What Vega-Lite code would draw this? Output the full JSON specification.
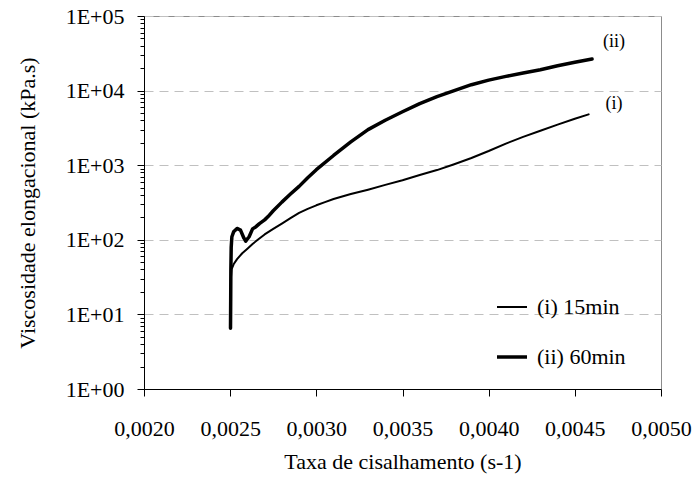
{
  "$schema": "https://vega.github.io/schema/vega-lite/v6.json",
  "width": 517,
  "height": 373,
  "autosize": {"type": "none"},
  "padding": {"left": 144, "top": 16, "right": 35, "bottom": 101},
  "background": "white",
  "config": {
    "font": "Times New Roman, Times, Liberation Serif, serif",
    "view": {"stroke": "#8c8c8c", "strokeWidth": 1},
    "axis": {
      "labelFont": "Times New Roman, Times, Liberation Serif, serif",
      "titleFont": "Times New Roman, Times, Liberation Serif, serif",
      "labelFontSize": 22,
      "titleFontSize": 22,
      "titleFontWeight": "normal",
      "labelColor": "black",
      "titleColor": "black",
      "domainColor": "black",
      "tickColor": "black",
      "domainWidth": 1,
      "tickWidth": 1
    }
  },
  "datasets": {
    "curves": [
      {"x": 0.002502, "y": 12, "s": "(i) 15min"},
      {"x": 0.002504, "y": 30, "s": "(i) 15min"},
      {"x": 0.002508, "y": 40, "s": "(i) 15min"},
      {"x": 0.00252, "y": 47, "s": "(i) 15min"},
      {"x": 0.00254, "y": 55, "s": "(i) 15min"},
      {"x": 0.00257, "y": 66, "s": "(i) 15min"},
      {"x": 0.0026, "y": 76, "s": "(i) 15min"},
      {"x": 0.00263, "y": 88, "s": "(i) 15min"},
      {"x": 0.00266, "y": 100, "s": "(i) 15min"},
      {"x": 0.0027, "y": 118, "s": "(i) 15min"},
      {"x": 0.00275, "y": 140, "s": "(i) 15min"},
      {"x": 0.0028, "y": 165, "s": "(i) 15min"},
      {"x": 0.00285, "y": 195, "s": "(i) 15min"},
      {"x": 0.0029, "y": 230, "s": "(i) 15min"},
      {"x": 0.00295, "y": 260, "s": "(i) 15min"},
      {"x": 0.003, "y": 290, "s": "(i) 15min"},
      {"x": 0.00305, "y": 320, "s": "(i) 15min"},
      {"x": 0.0031, "y": 352, "s": "(i) 15min"},
      {"x": 0.0032, "y": 410, "s": "(i) 15min"},
      {"x": 0.0033, "y": 470, "s": "(i) 15min"},
      {"x": 0.0034, "y": 545, "s": "(i) 15min"},
      {"x": 0.0035, "y": 630, "s": "(i) 15min"},
      {"x": 0.0036, "y": 740, "s": "(i) 15min"},
      {"x": 0.0037, "y": 860, "s": "(i) 15min"},
      {"x": 0.0038, "y": 1030, "s": "(i) 15min"},
      {"x": 0.0039, "y": 1250, "s": "(i) 15min"},
      {"x": 0.004, "y": 1550, "s": "(i) 15min"},
      {"x": 0.0041, "y": 1950, "s": "(i) 15min"},
      {"x": 0.0042, "y": 2400, "s": "(i) 15min"},
      {"x": 0.0043, "y": 2900, "s": "(i) 15min"},
      {"x": 0.0044, "y": 3500, "s": "(i) 15min"},
      {"x": 0.0045, "y": 4200, "s": "(i) 15min"},
      {"x": 0.00458, "y": 4800, "s": "(i) 15min"},
      {"x": 0.002502, "y": 6.5, "s": "(ii) 60min"},
      {"x": 0.002503, "y": 15, "s": "(ii) 60min"},
      {"x": 0.002504, "y": 40, "s": "(ii) 60min"},
      {"x": 0.002506, "y": 80, "s": "(ii) 60min"},
      {"x": 0.00251, "y": 110, "s": "(ii) 60min"},
      {"x": 0.00252, "y": 128, "s": "(ii) 60min"},
      {"x": 0.00254, "y": 142, "s": "(ii) 60min"},
      {"x": 0.00256, "y": 135, "s": "(ii) 60min"},
      {"x": 0.00258, "y": 105, "s": "(ii) 60min"},
      {"x": 0.00259, "y": 96, "s": "(ii) 60min"},
      {"x": 0.00261, "y": 110, "s": "(ii) 60min"},
      {"x": 0.00263, "y": 140, "s": "(ii) 60min"},
      {"x": 0.00265, "y": 150, "s": "(ii) 60min"},
      {"x": 0.00267, "y": 165, "s": "(ii) 60min"},
      {"x": 0.0027, "y": 185, "s": "(ii) 60min"},
      {"x": 0.00272, "y": 205, "s": "(ii) 60min"},
      {"x": 0.00275, "y": 245, "s": "(ii) 60min"},
      {"x": 0.0028, "y": 320, "s": "(ii) 60min"},
      {"x": 0.00285, "y": 410, "s": "(ii) 60min"},
      {"x": 0.0029, "y": 520, "s": "(ii) 60min"},
      {"x": 0.00295, "y": 680, "s": "(ii) 60min"},
      {"x": 0.003, "y": 870, "s": "(ii) 60min"},
      {"x": 0.0031, "y": 1350, "s": "(ii) 60min"},
      {"x": 0.0032, "y": 2050, "s": "(ii) 60min"},
      {"x": 0.0033, "y": 3000, "s": "(ii) 60min"},
      {"x": 0.0034, "y": 4000, "s": "(ii) 60min"},
      {"x": 0.0035, "y": 5200, "s": "(ii) 60min"},
      {"x": 0.0036, "y": 6700, "s": "(ii) 60min"},
      {"x": 0.0037, "y": 8300, "s": "(ii) 60min"},
      {"x": 0.0038, "y": 10000, "s": "(ii) 60min"},
      {"x": 0.0039, "y": 12000, "s": "(ii) 60min"},
      {"x": 0.004, "y": 13800, "s": "(ii) 60min"},
      {"x": 0.0041, "y": 15500, "s": "(ii) 60min"},
      {"x": 0.0042, "y": 17200, "s": "(ii) 60min"},
      {"x": 0.0043, "y": 19000, "s": "(ii) 60min"},
      {"x": 0.0044, "y": 21500, "s": "(ii) 60min"},
      {"x": 0.0045, "y": 24000, "s": "(ii) 60min"},
      {"x": 0.0046, "y": 26500, "s": "(ii) 60min"}
    ],
    "labels": [
      {"x": 0.004727, "y": 44150, "t": "(ii)"},
      {"x": 0.004727, "y": 6620, "t": "(i)"}
    ]
  },
  "layer": [
    {
      "data": {"name": "curves"},
      "mark": {"type": "line", "color": "black", "strokeJoin": "round", "strokeCap": "round", "clip": true},
      "encoding": {
        "x": {
          "field": "x",
          "type": "quantitative",
          "scale": {"domain": [0.002, 0.005], "nice": false, "zero": false},
          "axis": {
            "values": [0.002, 0.0025, 0.003, 0.0035, 0.004, 0.0045, 0.005],
            "labelExpr": "replace(format(datum.value, '.4f'), '.', ',')",
            "labelOverlap": false,
            "labelFlush": false,
            "title": "Taxa de cisalhamento (s-1)",
            "grid": false,
            "tickSize": 7,
            "labelPadding": 22,
            "titleY": 72,
            "titleBaseline": "middle"
          }
        },
        "y": {
          "field": "y",
          "type": "quantitative",
          "scale": {"type": "log", "domain": [1, 100000], "nice": false},
          "axis": {
            "values": [1, 2, 3, 4, 5, 6, 7, 8, 9, 10, 20, 30, 40, 50, 60, 70, 80, 90, 100, 200, 300, 400, 500, 600, 700, 800, 900, 1000, 2000, 3000, 4000, 5000, 6000, 7000, 8000, 9000, 10000, 20000, 30000, 40000, 50000, 60000, 70000, 80000, 90000, 100000],
            "labelExpr": "abs(log(datum.value)/LN10 - round(log(datum.value)/LN10)) > 0.01 ? '' : '1E+0' + round(log(datum.value)/LN10)",
            "title": "Viscosidade elongacional (kPa.s)",
            "grid": true,
            "gridColor": "#c0c0c0",
            "gridDash": [9, 6],
            "gridWidth": 1,
            "gridOpacity": {"condition": {"test": "abs(log(datum.value)/LN10 - round(log(datum.value)/LN10)) > 0.01", "value": 0}, "value": 1},
            "tickSize": {"condition": {"test": "abs(log(datum.value)/LN10 - round(log(datum.value)/LN10)) > 0.01", "value": 4}, "value": 7},
            "labelPadding": 13,
            "labelOverlap": false,
            "titleX": -117,
            "titleBaseline": "middle"
          }
        },
        "strokeWidth": {
          "field": "s",
          "type": "nominal",
          "scale": {"domain": ["(i) 15min", "(ii) 60min"], "range": [2, 3.5]},
          "legend": {
            "title": null,
            "orient": "none",
            "legendX": 351,
            "legendY": 275,
            "padding": 0,
            "symbolType": "stroke",
            "symbolSize": 900,
            "symbolStrokeColor": "black",
            "labelFont": "Times New Roman, Times, Liberation Serif, serif",
            "labelFontSize": 22,
            "labelColor": "black",
            "labelOffset": 8,
            "rowPadding": 22
          }
        }
      }
    },
    {
      "data": {"name": "labels"},
      "mark": {"type": "text", "font": "Times New Roman, Times, Liberation Serif, serif", "fontSize": 18, "color": "black"},
      "encoding": {
        "x": {"field": "x", "type": "quantitative"},
        "y": {"field": "y", "type": "quantitative"},
        "text": {"field": "t"}
      }
    }
  ]
}
